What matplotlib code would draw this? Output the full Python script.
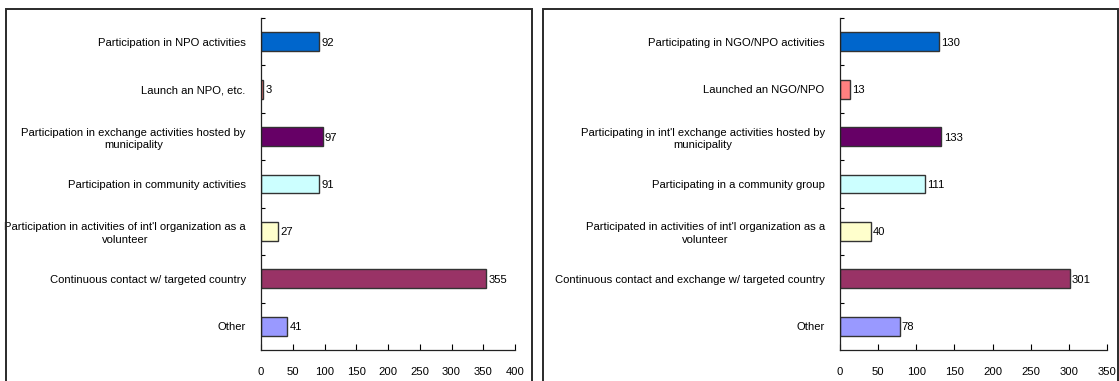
import matplotlib
matplotlib.use("Agg")
import matplotlib.pyplot as plt
from matplotlib import font_manager
from matplotlib.patches import Rectangle
import numpy as np

# narrow Arial-style face if present, otherwise regular Liberation Sans a bit smaller
installed = {f.name for f in font_manager.fontManager.ttflist}
if "Liberation Sans Narrow" in installed:
    plt.rcParams['font.family'] = ['Liberation Sans Narrow', 'DejaVu Sans']
    FS = 10
else:
    plt.rcParams['font.family'] = ['Liberation Sans', 'DejaVu Sans']
    FS = 8.1

# left panel
labels_a = ["Participation in NPO activities",
            "Launch an NPO, etc.",
            "Participation in exchange activities hosted by\nmunicipality",
            "Participation in community activities",
            "Participation in activities of int'l organization as a\nvolunteer",
            "Continuous contact w/ targeted country",
            "Other"]
values_a = [92, 3, 97, 91, 27, 355, 41]

# right panel
labels_b = ["Participating in NGO/NPO activities",
            "Launched an NGO/NPO",
            "Participating in int'l exchange activities hosted by\nmunicipality",
            "Participating in a community group",
            "Participated in activities of int'l organization as a\nvolunteer",
            "Continuous contact and exchange w/ targeted country",
            "Other"]
values_b = [130, 13, 133, 111, 40, 301, 78]

colors = ["#0066CC", "#FF8080", "#660066", "#CCFFFF", "#FFFFCC", "#993366", "#9999FF"]

W, H = 1119, 381
fig = plt.figure(figsize=(W / 100, H / 100), dpi=100)

# outer frames, open at the bottom
for x0, x1 in [(6, 532), (543, 1118)]:
    fig.patches.append(Rectangle((x0 / W, -0.1), (x1 - x0) / W, 1.1 - 9 / H,
                                 transform=fig.transFigure, fill=False,
                                 edgecolor="#2a2a2a", linewidth=1.4))


def draw_panel(rect, labels, values, xmax):
    ax = fig.add_axes(rect)
    y = np.arange(len(values))
    ax.barh(y, values, height=0.4, color=colors, edgecolor="#333333", linewidth=1.0)
    for yi, v in zip(y, values):
        ax.text(v + xmax * 0.009, yi, str(v), va="center_baseline", ha="left", fontsize=FS)
    ax.set_ylim(len(values) - 0.5, -0.5)
    ax.set_xlim(0, xmax)
    ax.set_xticks(np.arange(0, xmax + 1, 50))
    ax.set_yticks(y)
    ax.set_yticklabels(labels, fontsize=FS, linespacing=1.35)
    ax.set_yticks(np.arange(-0.5, len(values) - 0.5), minor=True)
    ax.tick_params(axis="y", which="major", length=0, pad=11)
    ax.tick_params(axis="y", which="minor", direction="in", length=3, width=0.8)
    ax.tick_params(axis="x", direction="in", length=4, width=0.8, pad=12, labelsize=FS)
    # right-justify the block, centre the wrapped second lines under the first
    for t in ax.get_yticklabels():
        t.set_horizontalalignment("right")
        t.set_multialignment("center")
    for s in ["top", "right"]:
        ax.spines[s].set_visible(False)
    for s in ["left", "bottom"]:
        ax.spines[s].set_color("#222222")
        ax.spines[s].set_linewidth(0.9)
    return ax


bottom = 1 - 350 / H
height = (350 - 18) / H
draw_panel([261 / W, bottom, (515 - 261) / W, height], labels_a, values_a, 400)
draw_panel([840 / W, bottom, (1107 - 840) / W, height], labels_b, values_b, 350)

fig.savefig("out.png", dpi=100)
